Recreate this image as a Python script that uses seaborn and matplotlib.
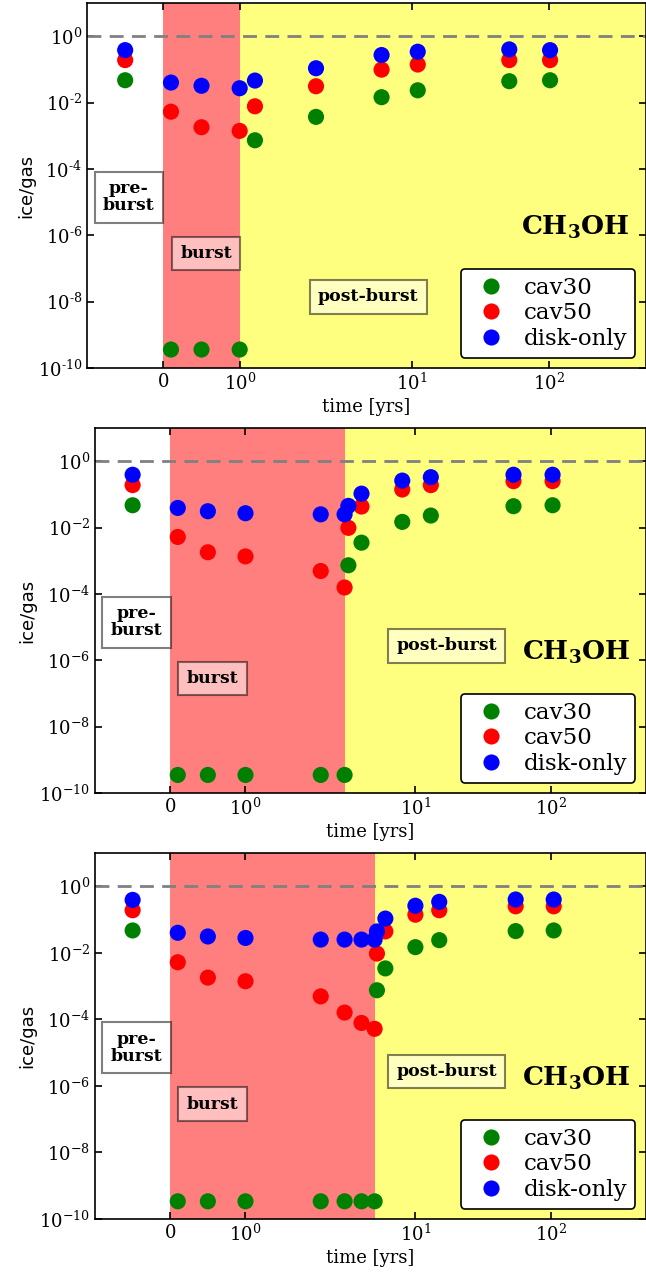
import numpy as np
import pandas as pd
import seaborn as sns
import matplotlib.pyplot as plt
from matplotlib.ticker import FixedLocator, NullLocator, FuncFormatter

# time axis (years since burst onset), pre-burst state at negative time
times_a = [-0.5, 0.1, 0.5, 1, 1.2, 2, 6, 11, 51, 101]
times_b = [-0.5, 0.1, 0.5, 1, 2, 3, 3.2, 4, 8, 13, 53, 103]
times_c = [-0.5, 0.1, 0.5, 1, 2, 3, 4, 5, 5.2, 6, 10, 15, 55, 105]

# burst end per panel
burst_end = [1, 3, 5]

# ice/gas ratios of CH3OH
cav30_a = [0.047, 3.6e-10, 3.6e-10, 3.6e-10, 7.3e-4, 3.7e-3, 0.0145, 0.0234, 0.044, 0.047]
cav50_a = [0.19, 5.3e-3, 1.8e-3, 1.4e-3, 7.7e-3, 0.031, 0.098, 0.14, 0.19, 0.19]
disk_a = [0.38, 0.040, 0.032, 0.027, 0.046, 0.108, 0.27, 0.34, 0.40, 0.38]

cav30_b = [0.047, 3.5e-10, 3.5e-10, 3.5e-10, 3.5e-10, 3.5e-10, 7.3e-4, 3.5e-3, 0.0148, 0.023, 0.044, 0.047]
cav50_b = [0.19, 5.2e-3, 1.8e-3, 1.35e-3, 4.9e-4, 1.56e-4, 9.8e-3, 0.043, 0.14, 0.19, 0.25, 0.25]
disk_b = [0.39, 0.039, 0.031, 0.027, 0.025, 0.025, 0.045, 0.105, 0.26, 0.33, 0.39, 0.39]

cav30_c = [0.047, 3.4e-10, 3.4e-10, 3.4e-10, 3.4e-10, 3.4e-10, 3.4e-10, 3.4e-10, 7.5e-4, 3.4e-3, 0.0148, 0.024, 0.045, 0.047]
cav50_c = [0.19, 5.2e-3, 1.8e-3, 1.4e-3, 4.9e-4, 1.6e-4, 7.8e-5, 5.2e-5, 9.5e-3, 0.044, 0.14, 0.19, 0.25, 0.25]
disk_c = [0.39, 0.040, 0.031, 0.028, 0.025, 0.025, 0.025, 0.025, 0.044, 0.107, 0.26, 0.34, 0.40, 0.40]

models = ["cav30", "cav50", "disk-only"]
colors = ["green", "red", "blue"]

panels = [
    (times_a, [cav30_a, cav50_a, disk_a]),
    (times_b, [cav30_b, cav50_b, disk_b]),
    (times_c, [cav30_c, cav50_c, disk_c]),
]

# label positions (data coords) of the post-burst box
post_pos = [(4.8, 1.4e-8), (17, 2.7e-6), (17, 2.7e-6)]

sns.set_style("ticks")
plt.rcParams['font.family'] = ['DejaVu Serif']
plt.rcParams['mathtext.fontset'] = 'dejavuserif'
plt.rcParams['text.color'] = 'black'
plt.rcParams['axes.labelcolor'] = 'black'
plt.rcParams['xtick.color'] = 'black'
plt.rcParams['ytick.color'] = 'black'
plt.rcParams['xtick.direction'] = 'in'
plt.rcParams['ytick.direction'] = 'in'
plt.rcParams['xtick.top'] = True
plt.rcParams['ytick.right'] = True
plt.rcParams['xtick.major.size'] = 5
plt.rcParams['ytick.major.size'] = 5
plt.rcParams['axes.edgecolor'] = 'black'
plt.rcParams['axes.linewidth'] = 1.2

fig = plt.figure(figsize=(6.46, 12.75), dpi=100)
W, H = 646, 1275
boxes = [(87, 3, 645.5, 368), (95, 428, 645.5, 793), (95, 853, 645.5, 1219)]

for i, (times, series) in enumerate(panels):
    l, t, r, b = boxes[i]
    ax = fig.add_axes([l / W, 1 - b / H, (r - l) / W, (b - t) / H])

    rows = []
    for name, vals in zip(models, series):
        for tt, v in zip(times, vals):
            rows.append({"time": tt, "ratio": v, "model": name})
    df = pd.DataFrame(rows)

    ax.axvspan(0, burst_end[i], color='red', alpha=0.5, lw=0, zorder=0)
    ax.axvspan(burst_end[i], 500, color='yellow', alpha=0.5, lw=0, zorder=0)
    ax.axhline(1, color='gray', ls='--', lw=2, dashes=(5, 3), zorder=1)

    sns.scatterplot(data=df, x="time", y="ratio", hue="model", hue_order=models,
                    palette=colors, s=135, linewidth=0, ax=ax, zorder=3)

    ax.set_xscale('symlog', linthresh=2)
    ax.set_yscale('log')
    ax.set_xlim(-1, 500)
    ax.set_ylim(1e-10, 10)
    ax.xaxis.set_major_locator(FixedLocator([0, 1, 10, 100]))
    ax.xaxis.set_minor_locator(NullLocator())
    ax.yaxis.set_major_locator(FixedLocator([1e-10, 1e-8, 1e-6, 1e-4, 1e-2, 1]))
    ax.yaxis.set_minor_locator(NullLocator())
    if i == 0:
        ax.yaxis.set_major_formatter(FuncFormatter(
            lambda v, p: r'$10^{%s}$' % (r'\text{-}%d' % -round(np.log10(v)) if v < 1 else '0')))
    ax.tick_params(labelsize=13, width=1.2)

    ax.set_xlabel("time [yrs]", fontsize=13, labelpad=3)
    ax.set_ylabel("ice/gas", fontsize=13, family='DejaVu Sans', labelpad=2)

    box = dict(facecolor='white', edgecolor='black', alpha=0.5, pad=6, lw=1.5)
    ax.text(-0.45, 1.4e-5, "pre-\nburst", fontsize=12.5, fontweight='bold', ha='center', va='center',
            linespacing=1.0, bbox=box, zorder=4)
    ax.text(0.56, 2.8e-7, "burst", fontsize=12.5, fontweight='bold', ha='center', va='center',
            bbox=box, zorder=4)
    ax.text(post_pos[i][0], post_pos[i][1], "post-burst", fontsize=12.5, fontweight='bold',
            ha='center', va='center', bbox=box, zorder=4)
    ax.text(0.972, 0.385, r"$\mathbf{CH_3OH}$", transform=ax.transAxes, fontsize=19,
            ha='right', va='center', zorder=4)

    leg = ax.legend(loc='lower right', fontsize=16.5, frameon=True, fancybox=True, framealpha=1,
                    edgecolor='black', handletextpad=0.4, borderpad=0.35, labelspacing=0.15,
                    borderaxespad=0.45, markerscale=1.0)
    leg.get_frame().set_linewidth(1.2)

fig.savefig("out.png", dpi=100)
